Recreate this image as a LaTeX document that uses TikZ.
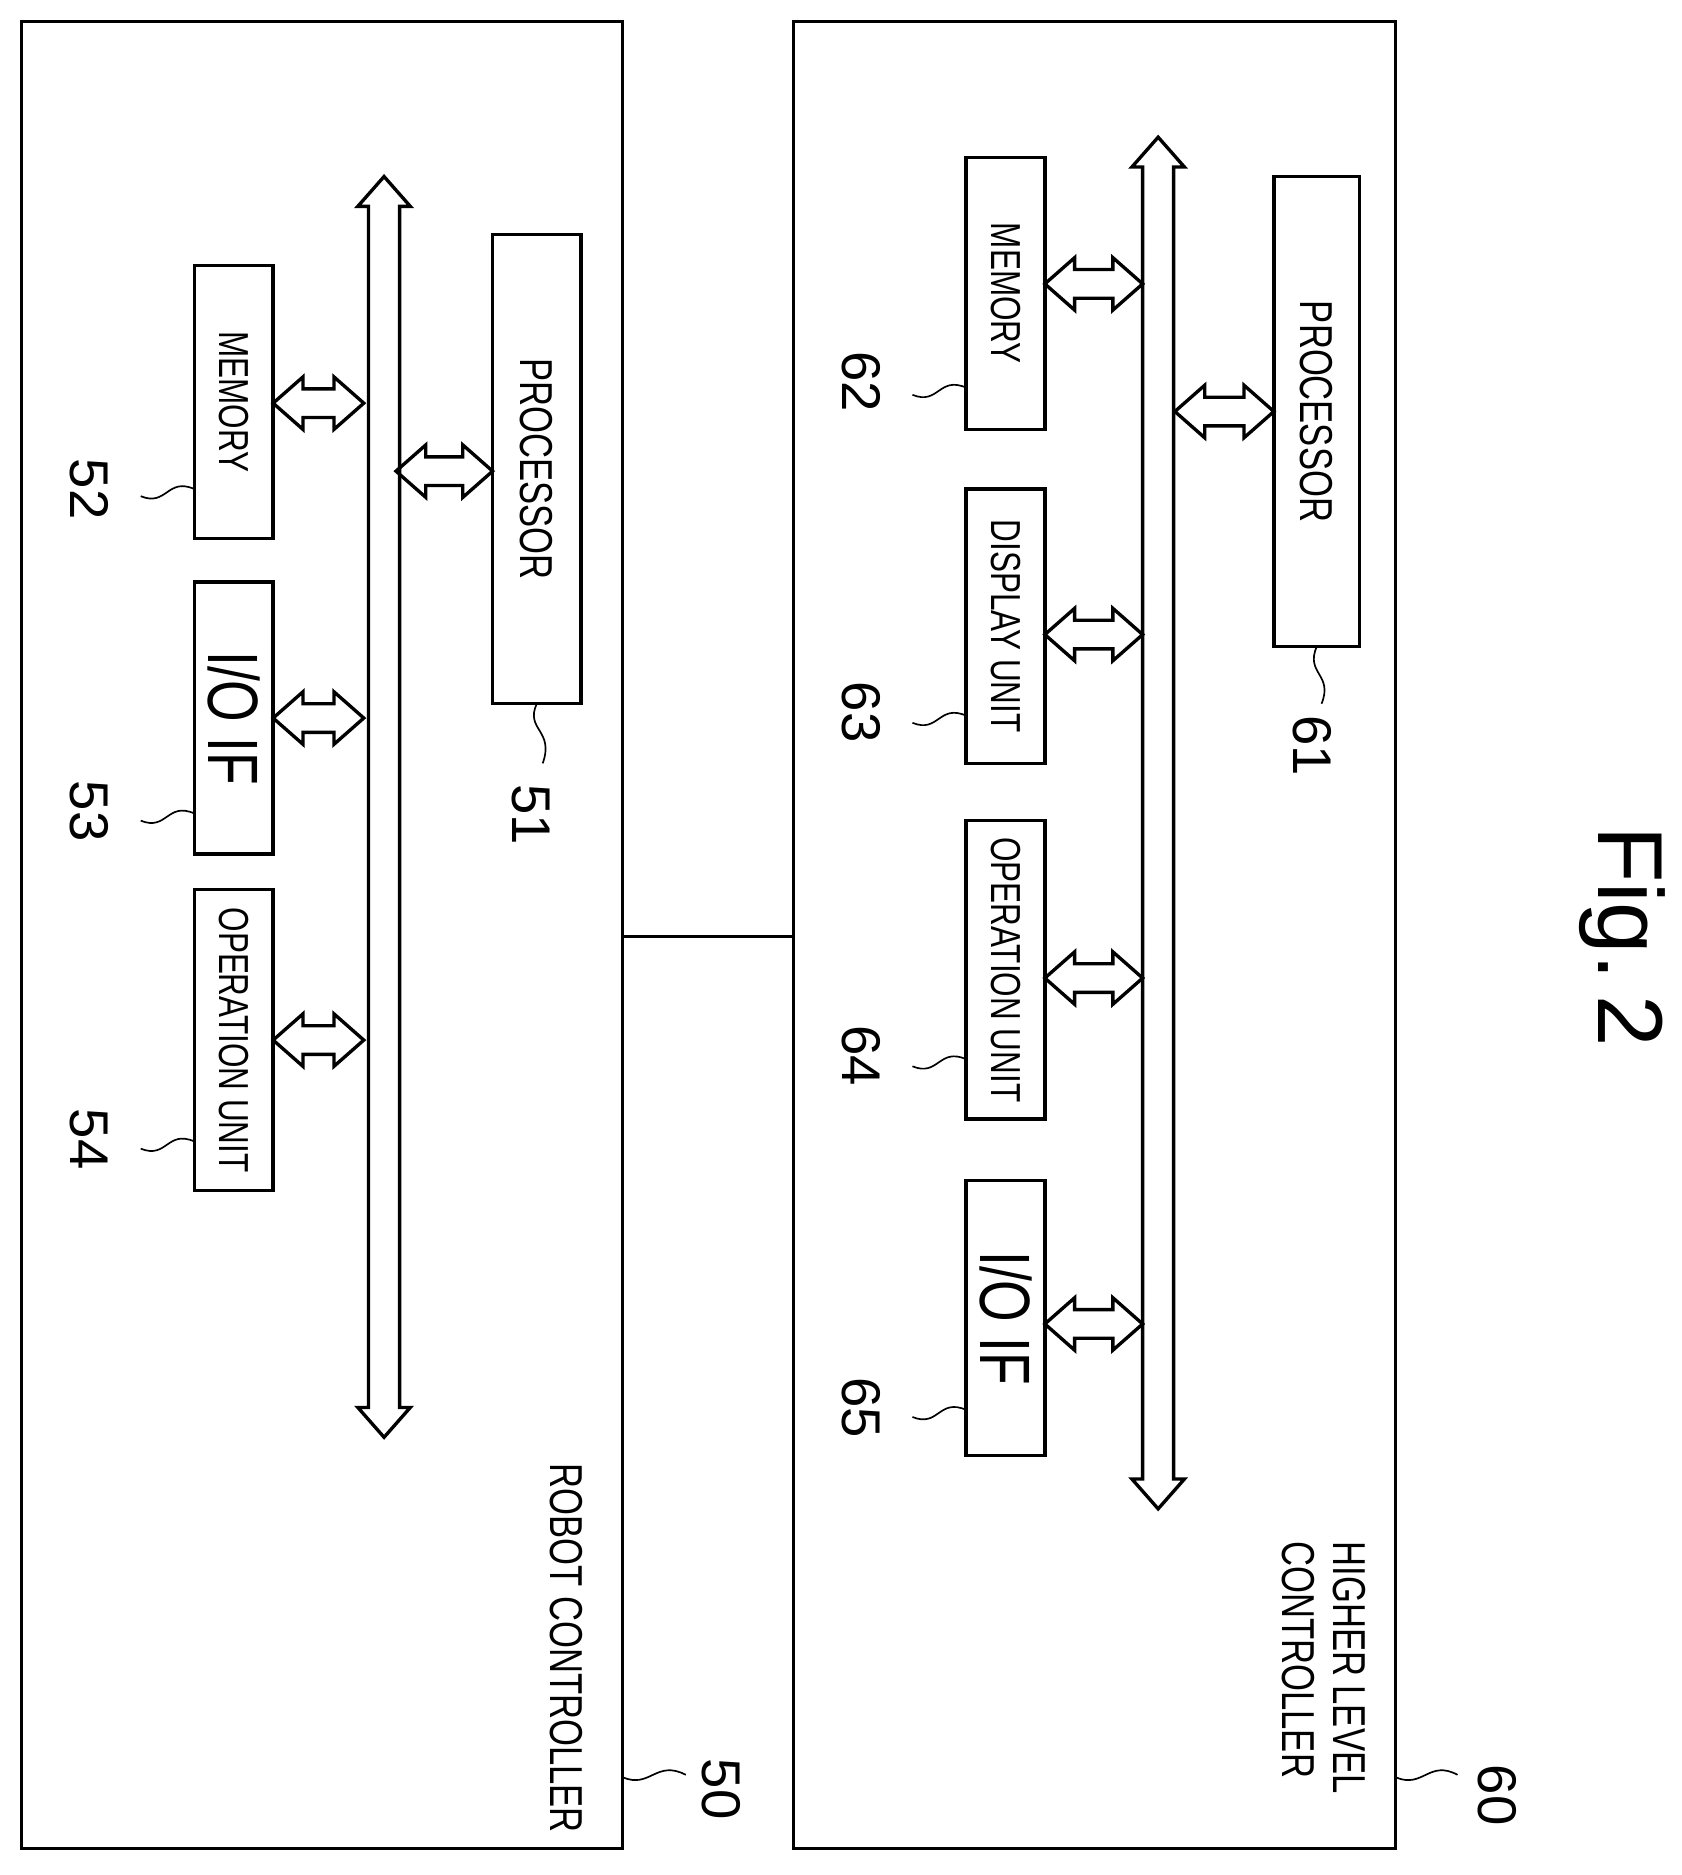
\documentclass[tikz,border=0pt]{standalone}
\usepackage{fontspec}
\setmainfont{Liberation Sans}
\usetikzlibrary{positioning}
\newcommand{\cond}[1]{\scalebox{0.75}[1]{#1}}
% fat double arrows: horizontal (x1,x2,y) and vertical (x,y1,y2)
\newcommand{\hfat}[3]{\draw[thick, line join=miter] (#1,#3) -- (#1+25,#3-22) -- (#1+25,#3-12) -- (#2-25,#3-12) -- (#2-25,#3-22) -- (#2,#3) -- (#2-25,#3+22) -- (#2-25,#3+12) -- (#1+25,#3+12) -- (#1+25,#3+22) -- cycle;}
\newcommand{\vfat}[3]{\draw[thick, line join=miter] (#1,#2) -- (#1+22,#2+25) -- (#1+13,#2+25) -- (#1+13,#3-25) -- (#1+22,#3-25) -- (#1,#3) -- (#1-22,#3-25) -- (#1-13,#3-25) -- (#1-13,#2+25) -- (#1-22,#2+25) -- cycle;}
\tikzset{
    unit/.style={draw, thick, inner sep=0pt},
    lbl/.style={rotate=-90, font=\fontsize{10}{11}\selectfont},
    num/.style={rotate=-90, font=\fontsize{13}{14}\selectfont}
}
\begin{document}
\begin{tikzpicture}[x=0.01cm, y=-0.01cm]
\useasboundingbox (0,0) rectangle (1410,1572);
% robot controller
\draw[thick] (18,18) rectangle (522,1550);
\draw[thick] (665,18) rectangle (1170,1550);
\coordinate (rcR) at (522,785);
\coordinate (hcL) at (665,785);
\draw[thick] (rcR) -- (hcL);
\vfat{322}{148}{1205}
\node[unit, minimum width=0.66cm, minimum height=2.29cm] (mem52) at (196,337) {};
\node[lbl] at (mem52) {\cond{MEMORY}};
\node[unit, minimum width=0.66cm, minimum height=2.28cm] (io53) at (196,602) {};
\node[rotate=-90, font=\fontsize{17}{18}\selectfont] at (io53) {\cond{I/O IF}};
\node[unit, minimum width=0.66cm, minimum height=2.52cm] (op54) at (196,872) {};
\node[lbl] at (op54) {\cond{OPERATION UNIT}};
\node[unit, minimum width=0.74cm, minimum height=3.93cm] (proc51) at (450,393) {};
\node[lbl, font=\fontsize{11}{12}\selectfont] at (proc51) {\cond{PROCESSOR}};
\hfat{229}{305}{338}
\hfat{229}{305}{602}
\hfat{229}{305}{872}
\hfat{332}{413}{395}
\node[num] (n52) at (75,410) {52};
\node[num] (n53) at (75,680) {53};
\node[num] (n54) at (75,955) {54};
\node[num] (n51) at (445,683) {51};
\draw (163,410) .. controls (140,400) and (140,425) .. (118,416);
\draw (163,682) .. controls (140,672) and (140,697) .. (118,688);
\draw (163,957) .. controls (140,947) and (140,972) .. (118,963);
\draw (450,590) .. controls (440,612) and (465,612) .. (455,640);
\node[rotate=-90, font=\fontsize{11}{12}\selectfont] at (475,1382) {\cond{ROBOT CONTROLLER}};
\node[num] at (605,1500) {50};
\draw (522,1490) .. controls (545,1500) and (550,1475) .. (575,1488);
% higher level controller
\vfat{971}{115}{1265}
\node[unit, minimum width=0.66cm, minimum height=2.28cm] (mem62) at (843,246) {};
\node[lbl] at (mem62) {\cond{MEMORY}};
\node[unit, minimum width=0.66cm, minimum height=2.30cm] (dsp63) at (843,525) {};
\node[lbl] at (dsp63) {\cond{DISPLAY UNIT}};
\node[unit, minimum width=0.66cm, minimum height=2.50cm] (op64) at (843,813) {};
\node[lbl] at (op64) {\cond{OPERATION UNIT}};
\node[unit, minimum width=0.66cm, minimum height=2.30cm] (io65) at (843,1105) {};
\node[rotate=-90, font=\fontsize{17}{18}\selectfont] at (io65) {\cond{I/O IF}};
\node[unit, minimum width=0.72cm, minimum height=3.94cm] (proc61) at (1104,345) {};
\node[lbl, font=\fontsize{11}{12}\selectfont] at (proc61) {\cond{PROCESSOR}};
\hfat{876}{958}{238}
\hfat{876}{958}{532}
\hfat{876}{958}{820}
\hfat{876}{958}{1110}
\hfat{985}{1068}{345}
\node[num] at (722,320) {62};
\node[num] at (722,597) {63};
\node[num] at (722,885) {64};
\node[num] at (722,1180) {65};
\node[num] at (1100,625) {61};
\draw (810,325) .. controls (787,315) and (787,340) .. (765,331);
\draw (810,600) .. controls (787,590) and (787,615) .. (765,606);
\draw (810,888) .. controls (787,878) and (787,903) .. (765,894);
\draw (810,1182) .. controls (787,1172) and (787,1197) .. (765,1188);
\draw (1104,542) .. controls (1094,565) and (1118,565) .. (1108,590);
\node[rotate=-90, font=\fontsize{11}{12}\selectfont, align=left] at (1110,1398) {\cond{HIGHER LEVEL}\\\cond{CONTROLLER}};
\node[num] at (1255,1505) {60};
\draw (1170,1490) .. controls (1193,1500) and (1198,1475) .. (1222,1488);
\node[rotate=-90, font=\fontsize{22}{24}\selectfont] at (1360,785) {Fig.\,2};
\end{tikzpicture}
\end{document}
